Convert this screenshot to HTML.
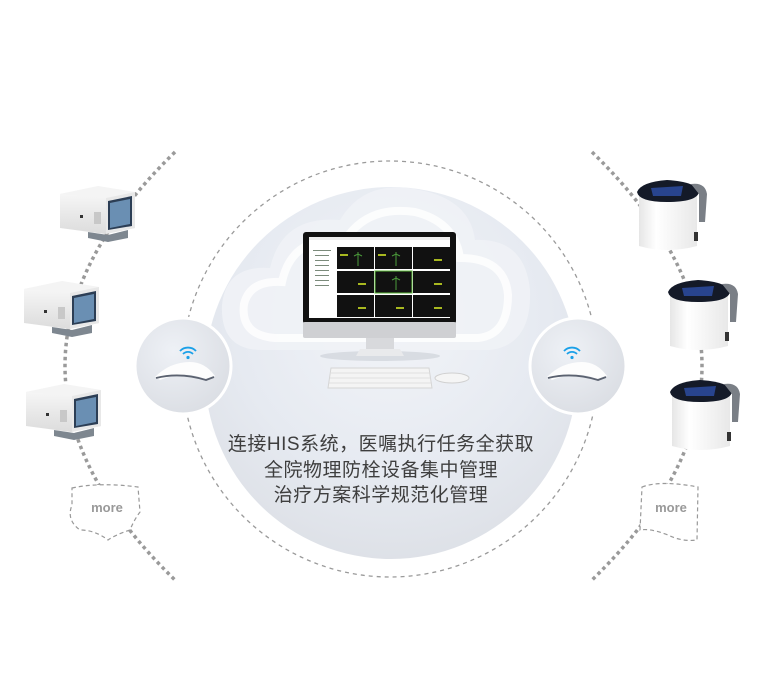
<!DOCTYPE html>
<html><head><meta charset="utf-8"><style>
html,body{margin:0;padding:0;background:#fff;}
svg{display:block}
</style></head><body>
<svg width="760" height="696" viewBox="0 0 760 696" xmlns="http://www.w3.org/2000/svg">
<defs>
<radialGradient id="bg" cx="0.5" cy="0.35" r="0.7">
<stop offset="0" stop-color="#f2f4f8"/><stop offset="0.6" stop-color="#e6eaf1"/><stop offset="1" stop-color="#dcdfe5"/>
</radialGradient>
<radialGradient id="rg" cx="0.4" cy="0.35" r="0.75">
<stop offset="0" stop-color="#eef1f6"/><stop offset="1" stop-color="#d9dce2"/>
</radialGradient>
<linearGradient id="body" x1="0" y1="0" x2="0" y2="1"><stop offset="0" stop-color="#fbfbfb"/><stop offset="1" stop-color="#dcdcdc"/></linearGradient>
<linearGradient id="wbody" x1="0" y1="0" x2="1" y2="0"><stop offset="0" stop-color="#e6e6e6"/><stop offset="0.3" stop-color="#fff"/><stop offset="1" stop-color="#e8e8e8"/></linearGradient>
<g id="dev1">
<path d="M0,8 L38,0 L75,6 L75,42 L45,48 L0,42 Z" fill="url(#body)"/>
<path d="M0,8 L38,0 L75,6 L46,12 Z" fill="#f4f4f4"/>
<path d="M46,12 L75,6 L75,42 L46,48 Z" fill="#e8e8e8"/>
<path d="M48,15 L72,10 L72,40 L48,44 Z" fill="#2c3e55"/>
<path d="M50,17 L70,13 L70,38 L50,42 Z" fill="#6a8fb3"/>
<rect x="34" y="26" width="7" height="12" fill="#c8c8c8"/>
<rect x="20" y="29" width="3" height="3" fill="#333"/>
<path d="M28,46 L48,49 L68,44 L68,52 L48,56 L28,52 Z" fill="#7e8790"/>
</g>
<g id="dev2">
<path d="M2,14 Q2,4 30,2 Q58,4 60,14 L60,64 Q30,72 2,64 Z" fill="url(#wbody)"/>
<path d="M0,10 Q4,0 30,-2 Q60,0 62,10 Q60,20 30,20 Q2,20 0,10 Z" fill="#141a28"/>
<path d="M14,6 L46,4 L44,14 L16,14 Z" fill="#2d4fa8" opacity="0.8"/>
<path d="M54,2 Q68,0 70,12 L68,40 L62,40 L62,12 Z" fill="#7a7f86"/>
<rect x="57" y="50" width="4" height="9" fill="#333"/>
</g>
</defs>

<path d="M175,152 Q-45,366 175,580" fill="none" stroke="#9a9a9a" stroke-width="3.5" stroke-dasharray="3.5 3.5"/>
<path d="M592,152 Q812,366 592,580" fill="none" stroke="#9a9a9a" stroke-width="3.5" stroke-dasharray="3.5 3.5"/>

<circle cx="390" cy="369" r="208" fill="none" stroke="#9a9a9a" stroke-width="1.3" stroke-dasharray="4 4"/>
<circle cx="391" cy="373" r="186" fill="url(#bg)"/>
<path d="M262,350 Q220,350 222,305 Q226,265 270,268 Q282,215 340,220 Q365,178 420,190 Q470,200 475,240 Q525,238 530,290 Q532,345 490,350 Z" fill="#f0f2f6" opacity="0.9"/>
<path d="M275,338 Q240,335 244,304 Q250,280 282,282 Q292,235 345,240 Q368,205 415,212 Q455,222 460,258 Q505,258 508,295 Q508,335 478,338 Z" fill="none" stroke="#fff" stroke-width="8" opacity="0.8"/>

<circle cx="183" cy="366" r="48" fill="url(#rg)" stroke="#fff" stroke-width="3"/>
<circle cx="578" cy="366" r="48" fill="url(#rg)" stroke="#fff" stroke-width="3"/>
<g>
<path d="M155,377 Q170,362 190,362 Q205,362 215,376 L205,379 Q185,370 160,380 Z" fill="#fdfdfd"/>
<path d="M156,378 Q180,372 206,380 L214,377" fill="none" stroke="#5b6270" stroke-width="1.8"/>
<g fill="none" stroke="#1aa0e8" stroke-width="1.8"><path d="M183,354 a7,7 0 0 1 10,0"/><path d="M180,351 a11,11 0 0 1 16,0"/></g>
<circle cx="188" cy="357.5" r="1.6" fill="#1aa0e8"/>
</g>
<g transform="translate(392,0)">
<path d="M155,377 Q170,362 190,362 Q205,362 215,376 L205,379 Q185,370 160,380 Z" fill="#fdfdfd"/>
<path d="M156,378 Q180,372 206,380 L214,377" fill="none" stroke="#5b6270" stroke-width="1.8"/>
<g fill="none" stroke="#1aa0e8" stroke-width="1.8"><path d="M175,354 a7,7 0 0 1 10,0"/><path d="M172,351 a11,11 0 0 1 16,0"/></g>
<circle cx="180" cy="357.5" r="1.6" fill="#1aa0e8"/>
</g>

<ellipse cx="380" cy="356" rx="60" ry="5" fill="#cfd3da" opacity="0.7"/>
<rect x="303" y="232" width="153" height="92" rx="3" fill="#111"/>
<rect x="303" y="322" width="153" height="16" rx="2" fill="#cfd0d3"/>
<rect x="309" y="237" width="141" height="81" fill="#fff"/>
<rect x="309" y="237" width="141" height="3" fill="#eee"/>
<g fill="#111">
<rect x="337" y="247" width="37" height="22"/><rect x="375" y="247" width="37" height="22"/><rect x="413" y="247" width="37" height="22"/>
<rect x="337" y="271" width="37" height="22"/><rect x="375" y="271" width="37" height="22" stroke="#5dbb3a" stroke-width="1"/><rect x="413" y="271" width="37" height="22"/>
<rect x="337" y="295" width="37" height="22"/><rect x="375" y="295" width="37" height="22"/><rect x="413" y="295" width="37" height="22"/>
</g>
<g fill="#a8b820"><rect x="358" y="283" width="8" height="2"/><rect x="434" y="259" width="8" height="2"/><rect x="434" y="283" width="8" height="2"/><rect x="358" y="307" width="8" height="2"/><rect x="396" y="307" width="8" height="2"/><rect x="434" y="307" width="8" height="2"/><rect x="340" y="254" width="8" height="2"/><rect x="378" y="254" width="8" height="2"/></g>
<g fill="none" stroke="#4a9a3a" stroke-width="1"><path d="M358,252 v14 M354,256 l4,-2 4,2"/><path d="M396,252 v14 M392,256 l4,-2 4,2"/><path d="M396,276 v14 M392,280 l4,-2 4,2"/></g>
<g fill="#7a8a7a"><rect x="313" y="250" width="18" height="1"/><rect x="315" y="255" width="14" height="1"/><rect x="315" y="260" width="14" height="1"/><rect x="315" y="265" width="14" height="1"/><rect x="315" y="270" width="14" height="1"/><rect x="315" y="275" width="14" height="1"/><rect x="315" y="280" width="14" height="1"/><rect x="315" y="285" width="14" height="1"/></g>
<rect x="366" y="338" width="28" height="12" fill="#d8d9dc"/>
<path d="M356,356 L360,349 L400,349 L404,356 Z" fill="#e9eaec"/>
<path d="M331,368 L429,368 L432,388 L328,388 Z" fill="#f4f4f4" stroke="#d5d5d5"/>
<g stroke="#dadada" stroke-width="0.8"><line x1="331" y1="373" x2="430" y2="373"/><line x1="330" y1="378" x2="431" y2="378"/><line x1="329" y1="383" x2="432" y2="383"/></g>
<ellipse cx="452" cy="378" rx="17" ry="5" fill="#f5f5f5" stroke="#d0d0d0"/>

<g font-family="'Liberation Sans','Noto Sans CJK SC',sans-serif" font-size="19" fill="#3e3e3e" text-anchor="middle" letter-spacing="0.5">
<text x="381" y="450">连接HIS系统，医嘱执行任务全获取</text>
<text x="381" y="476">全院物理防栓设备集中管理</text>
<text x="381" y="501">治疗方案科学规范化管理</text>
</g>

<use href="#dev1" x="60" y="186"/>
<use href="#dev1" x="24" y="281"/>
<use href="#dev1" x="26" y="384"/>
<use href="#dev2" x="637" y="182"/>
<use href="#dev2" x="668" y="282"/>
<use href="#dev2" x="670" y="382"/>

<path d="M72,488 Q100,482 138,487 L140,512 Q134,520 130,530 Q115,535 108,540 Q95,530 80,530 Q66,520 72,505 Z" fill="#fff" stroke="#999" stroke-width="1.2" stroke-dasharray="4 3"/>
<text x="107" y="512" font-family="'Liberation Sans',sans-serif" font-size="13" font-weight="bold" fill="#999" text-anchor="middle">more</text>
<path d="M642,487 Q660,480 698,487 L697,540 Q682,542 668,535 Q650,528 640,530 Z" fill="#fff" stroke="#999" stroke-width="1.2" stroke-dasharray="4 3"/>
<text x="671" y="512" font-family="'Liberation Sans',sans-serif" font-size="13" font-weight="bold" fill="#999" text-anchor="middle">more</text>
</svg>
</body></html>
